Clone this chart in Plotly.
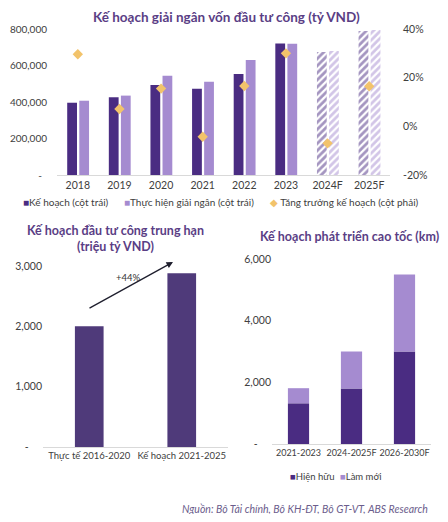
import plotly.graph_objects as go

# ---------------- data ----------------
years = ["2018", "2019", "2020", "2021", "2022", "2023", "2024F", "2025F"]
ke_hoach = [396000, 426000, 493000, 473000, 553000, 721000, 674000, 789000]
thuc_hien = [407000, 435000, 544000, 511000, 630000, 719000, 679000, 795000]
tang_truong = [29.6, 7.1, 15.5, -4.3, 16.6, 30.0, -7.0, 16.5]
forecast = [False, False, False, False, False, False, True, True]

left_ticks = [0, 200000, 400000, 600000, 800000]
left_ticktext = ["-\u00a0\u00a0", "200,000", "400,000", "600,000", "800,000"]
right_ticks = [-20, 0, 20, 40]
right_ticktext = ["-20%", "0%", "20%", "40%"]

mid_cats = ["Thực tế 2016-2020", "Kế hoạch 2021-2025"]
mid_vals = [2000, 2880]
mid_ticks = [0, 1000, 2000, 3000]
mid_ticktext = ["-\u00a0\u00a0\u00a0\u00a0\u00a0", "1,000", "2,000", "3,000"]

hw_cats = ["2021-2023", "2024-2025F", "2026-2030F"]
hien_huu = [1320, 1800, 3000]
lam_moi = [490, 1200, 2500]
hw_ticks = [0, 2000, 4000, 6000]
hw_ticktext = ["-\u00a0\u00a0\u00a0\u00a0\u00a0", "2,000", "4,000", "6,000"]

# ---------------- style ----------------
# the page body has an 8px margin, so the figure is drawn at (8, 8)
OFF = 8
W, H = 448 - 2 * OFF, 522 - 2 * OFF
DARK = "#4a2c82"
LIGHT = "#a58bd0"
MID_BAR = "#4f3a7a"
GOLD = "#f2c36b"
TITLE_C = "#5a3e85"
TICK_C = "#404040"
FONT = "Lato"


def px(x):
    return (x - OFF) / W


def py(y):
    return 1 - (y - OFF) / H


fig = go.Figure()

# top chart bars
kh_shape = ["/" if f else "" for f in forecast]
fig.add_trace(go.Bar(
    x=years, y=ke_hoach, xaxis="x", yaxis="y", width=0.235, offset=-0.255,
    marker=dict(color=DARK, line=dict(width=0),
                pattern=dict(shape=kh_shape, fgcolor=DARK, bgcolor="white",
                             size=5, solidity=0.55)),
    showlegend=False, name="Kế hoạch (cột trái)"))
fig.add_trace(go.Bar(
    x=years, y=thuc_hien, xaxis="x", yaxis="y", width=0.235, offset=0.035,
    marker=dict(color=LIGHT, line=dict(width=0),
                pattern=dict(shape=kh_shape, fgcolor=LIGHT, bgcolor="white",
                             size=5, solidity=0.55)),
    showlegend=False, name="Thực hiện giải ngân (cột trái)"))
fig.add_trace(go.Scatter(
    x=years, y=tang_truong, xaxis="x", yaxis="y2", mode="markers",
    marker=dict(symbol="diamond", size=8, color=GOLD),
    showlegend=False, name="Tăng trưởng kế hoạch (cột phải)"))

# bottom-left chart
fig.add_trace(go.Bar(
    x=mid_cats, y=mid_vals, xaxis="x3", yaxis="y3", width=0.31,
    marker=dict(color=MID_BAR, line=dict(width=0)), showlegend=False))

# bottom-right chart (stacked via base)
fig.add_trace(go.Bar(
    x=hw_cats, y=hien_huu, xaxis="x4", yaxis="y4", width=0.4,
    marker=dict(color=DARK, line=dict(width=0)), showlegend=False, name="Hiện hữu"))
fig.add_trace(go.Bar(
    x=hw_cats, y=lam_moi, base=hien_huu, xaxis="x4", yaxis="y4", width=0.4,
    marker=dict(color=LIGHT, line=dict(width=0)), showlegend=False, name="Làm mới"))

tickfont_top = dict(family=FONT, size=10.5, color=TICK_C)
tickfont_ly = dict(family=FONT, size=10, color=TICK_C)
tickfont_bl = dict(family=FONT, size=9.5, color=TICK_C)
tickfont_br = dict(family=FONT, size=9, color=TICK_C)
tickfont_by = dict(family=FONT, size=10.5, color=TICK_C)
common_x = dict(showgrid=False, zeroline=False, showline=True, linecolor="#d9d9d9",
                linewidth=1, ticks="", fixedrange=True, tickangle=0, automargin=False)
common_y = dict(showgrid=False, zeroline=False, showline=False, ticks="",
                fixedrange=True, automargin=False)

fig.update_layout(
    width=W, height=H, autosize=False,
    margin=dict(l=0, r=0, t=0, b=0),
    paper_bgcolor="white", plot_bgcolor="white",
    barmode="overlay",
    font=dict(family=FONT, color=TICK_C),
    xaxis=dict(domain=[px(57), px(390)], anchor="y", tickfont=tickfont_top,
               range=[-0.5, 7.5], **common_x),
    yaxis=dict(domain=[py(175), py(29)], anchor="x", range=[0, 800000],
               tickvals=left_ticks, ticktext=left_ticktext, tickfont=tickfont_ly,
               ticklabelstandoff=9, **common_y),
    yaxis2=dict(overlaying="y", side="right", anchor="x", range=[-20, 40],
                tickvals=right_ticks, ticktext=right_ticktext, tickfont=tickfont_top,
                ticklabelstandoff=12, **common_y),
    xaxis3=dict(domain=[px(43), px(228)], anchor="y3", tickfont=tickfont_bl,
                range=[-0.5, 1.5], **common_x),
    yaxis3=dict(domain=[py(447), py(266)], anchor="x3", range=[0, 3000],
                tickvals=mid_ticks, ticktext=mid_ticktext, tickfont=tickfont_by,
                **common_y),
    xaxis4=dict(domain=[px(272), px(431)], anchor="y4", tickfont=tickfont_br,
                range=[-0.5, 2.5], **common_x),
    yaxis4=dict(domain=[py(444), py(259)], anchor="x4", range=[0, 6000],
                tickvals=hw_ticks, ticktext=hw_ticktext, tickfont=tickfont_by,
                **common_y),
)

ann = []
# titles
ann.append(dict(x=px(226), y=py(OFF), xref="paper", yref="paper", showarrow=False,
                xanchor="center", yanchor="top", borderpad=0,
                text="<b>Kế hoạch giải ngân vốn đầu tư công (tỷ VND)</b>",
                font=dict(family=FONT, size=13.5, color=TITLE_C)))
ann.append(dict(x=px(115), y=py(238), xref="paper", yref="paper", showarrow=False,
                xanchor="center", yanchor="middle",
                text="<b>Kế hoạch đầu tư công trung hạn<br>(triệu tỷ VND)</b>",
                font=dict(family=FONT, size=12.5, color=TITLE_C)))
ann.append(dict(x=px(349), y=py(236), xref="paper", yref="paper", showarrow=False,
                xanchor="center", yanchor="middle",
                text="<b>Kế hoạch phát triển cao tốc (km)</b>",
                font=dict(family=FONT, size=12.5, color=TITLE_C)))

# top legend
leg_font = dict(family=FONT, size=10, color=TICK_C)
ann.append(dict(x=px(21), y=py(202), xref="paper", yref="paper", showarrow=False,
                xanchor="left", yanchor="middle", font=leg_font,
                text=f"<span style='color:{DARK}'>■</span>Kế hoạch (cột trái)"))
ann.append(dict(x=px(122), y=py(202), xref="paper", yref="paper", showarrow=False,
                xanchor="left", yanchor="middle", font=leg_font,
                text=f"<span style='color:{LIGHT}'>■</span>Thực hiện giải ngân (cột trái)"))
ann.append(dict(x=px(268), y=py(202), xref="paper", yref="paper", showarrow=False,
                xanchor="left", yanchor="middle", font=leg_font,
                text=f"<span style='color:{GOLD}'>◆</span> Tăng trưởng kế hoạch (cột phải)"))

# bottom-right legend
ann.append(dict(x=px(288), y=py(476), xref="paper", yref="paper", showarrow=False,
                xanchor="left", yanchor="middle",
                font=dict(family=FONT, size=9.5, color=TICK_C),
                text=f"<span style='color:{DARK}'>■</span>Hiện hữu"))
ann.append(dict(x=px(338), y=py(476), xref="paper", yref="paper", showarrow=False,
                xanchor="left", yanchor="middle",
                font=dict(family=FONT, size=9.5, color=TICK_C),
                text=f"<span style='color:{LIGHT}'>■</span>Làm mới"))

# growth arrow (tail offset in pixels)
growth = round((mid_vals[1] / mid_vals[0] - 1) * 100)
ann.append(dict(x=px(173), y=py(262), ax=-85, ay=47, xref="paper", yref="paper",
                showarrow=True, arrowhead=2,
                arrowsize=1, arrowwidth=1.3, arrowcolor="#1f1f2e", text=""))
ann.append(dict(x=px(128), y=py(277), xref="paper", yref="paper", showarrow=False,
                xanchor="center", yanchor="middle",
                text=f"+{growth}%", font=dict(family=FONT, size=9.5, color="#333333")))

# source
ann.append(dict(x=px(430), y=py(509), xref="paper", yref="paper", showarrow=False,
                xanchor="right", yanchor="middle",
                text="<i>Nguồn: Bộ Tài chính, Bộ KH-ĐT, Bộ GT-VT, ABS Research</i>",
                font=dict(family=FONT, size=10.5, color="#6b5d8c")))

fig.update_layout(annotations=ann)
fig.write_html("out.html")
